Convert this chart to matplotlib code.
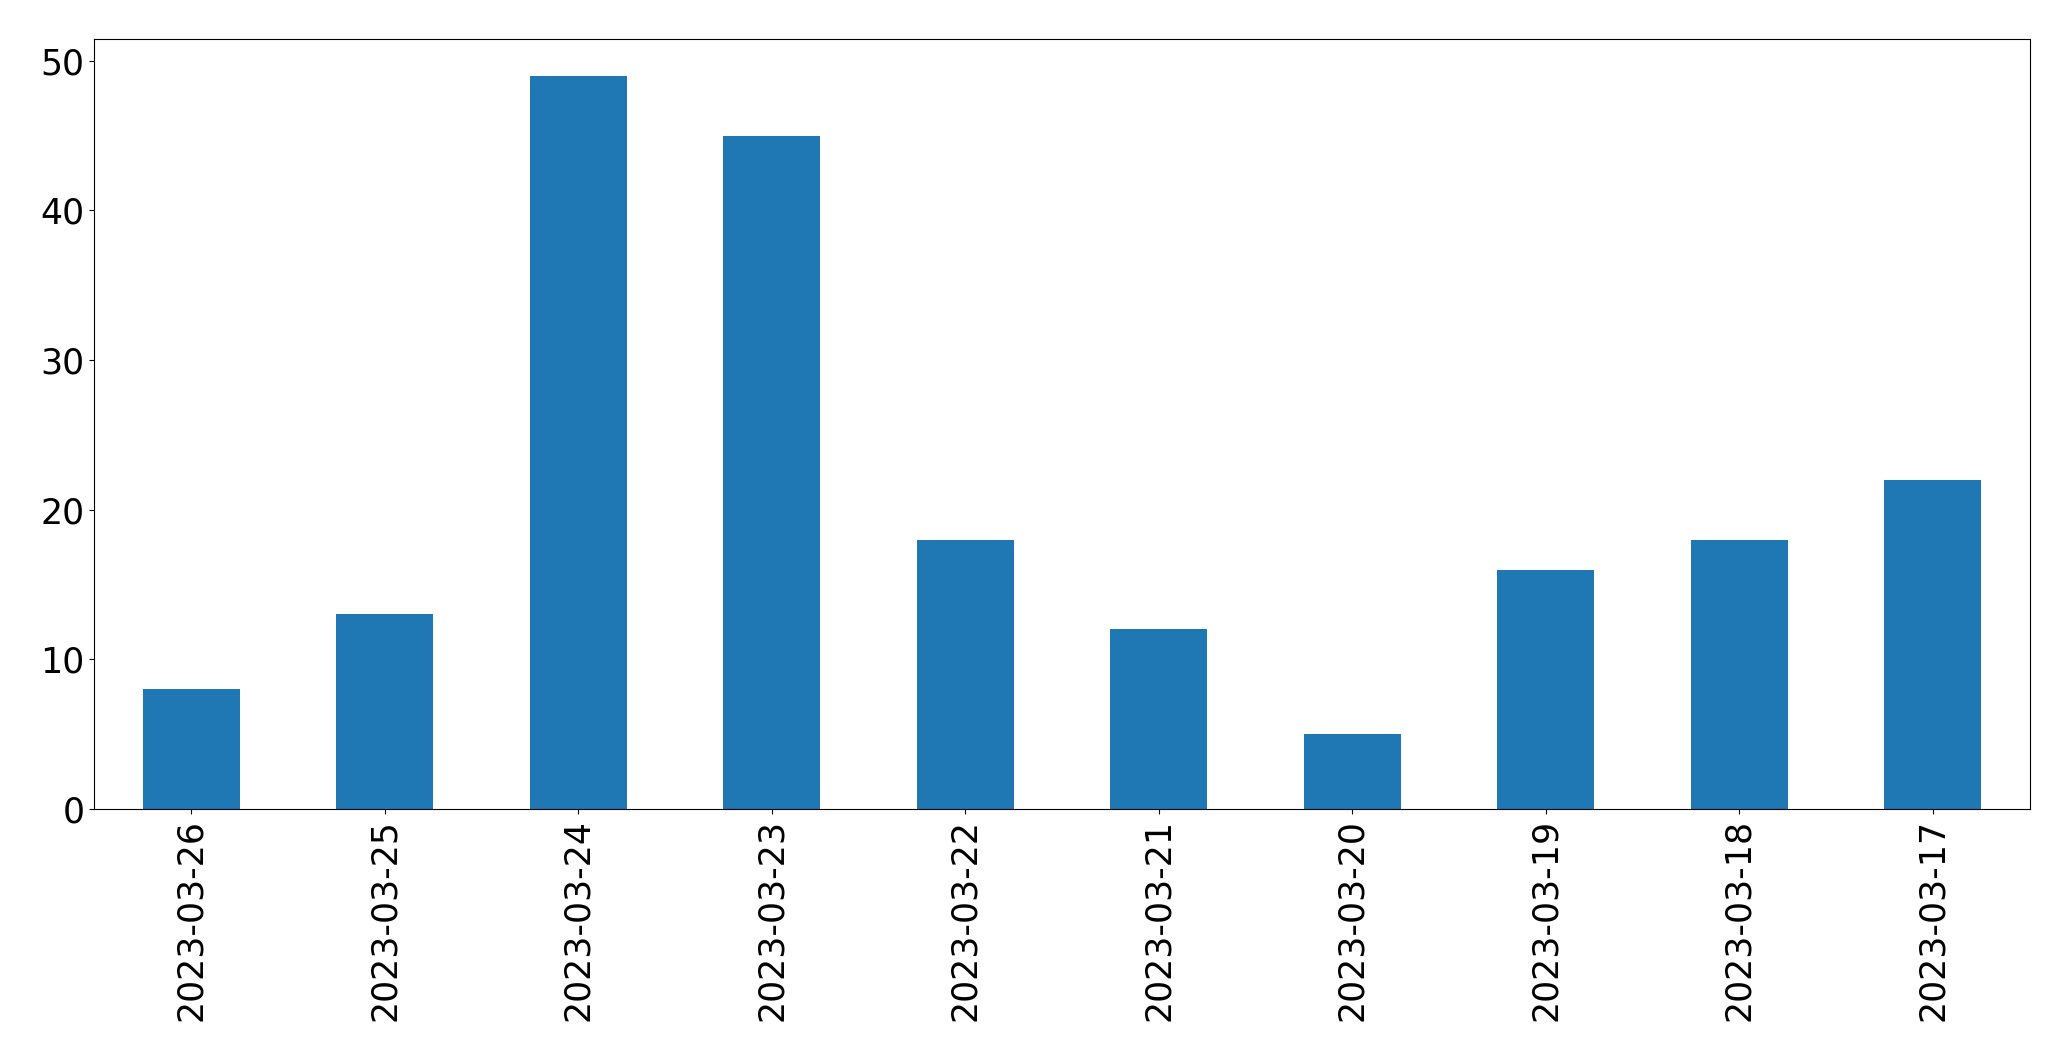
import matplotlib

matplotlib.use("Agg")
import matplotlib.pyplot as plt
import pandas as pd

dates = ["2023-03-26", "2023-03-25", "2023-03-24", "2023-03-23", "2023-03-22",
         "2023-03-21", "2023-03-20", "2023-03-19", "2023-03-18", "2023-03-17"]
counts = [8, 13, 49, 45, 18, 12, 5, 16, 18, 22]

plt.rcParams["font.size"] = 25

series = pd.Series(counts, index=dates)

fig, ax = plt.subplots(figsize=(20.71, 10.61), dpi=100)
series.plot.bar(ax=ax, color="#1f77b4")
ax.set_xlabel("")

fig.subplots_adjust(left=0.0456, right=0.980, top=0.9632, bottom=0.2375)
fig.savefig("out.png")
